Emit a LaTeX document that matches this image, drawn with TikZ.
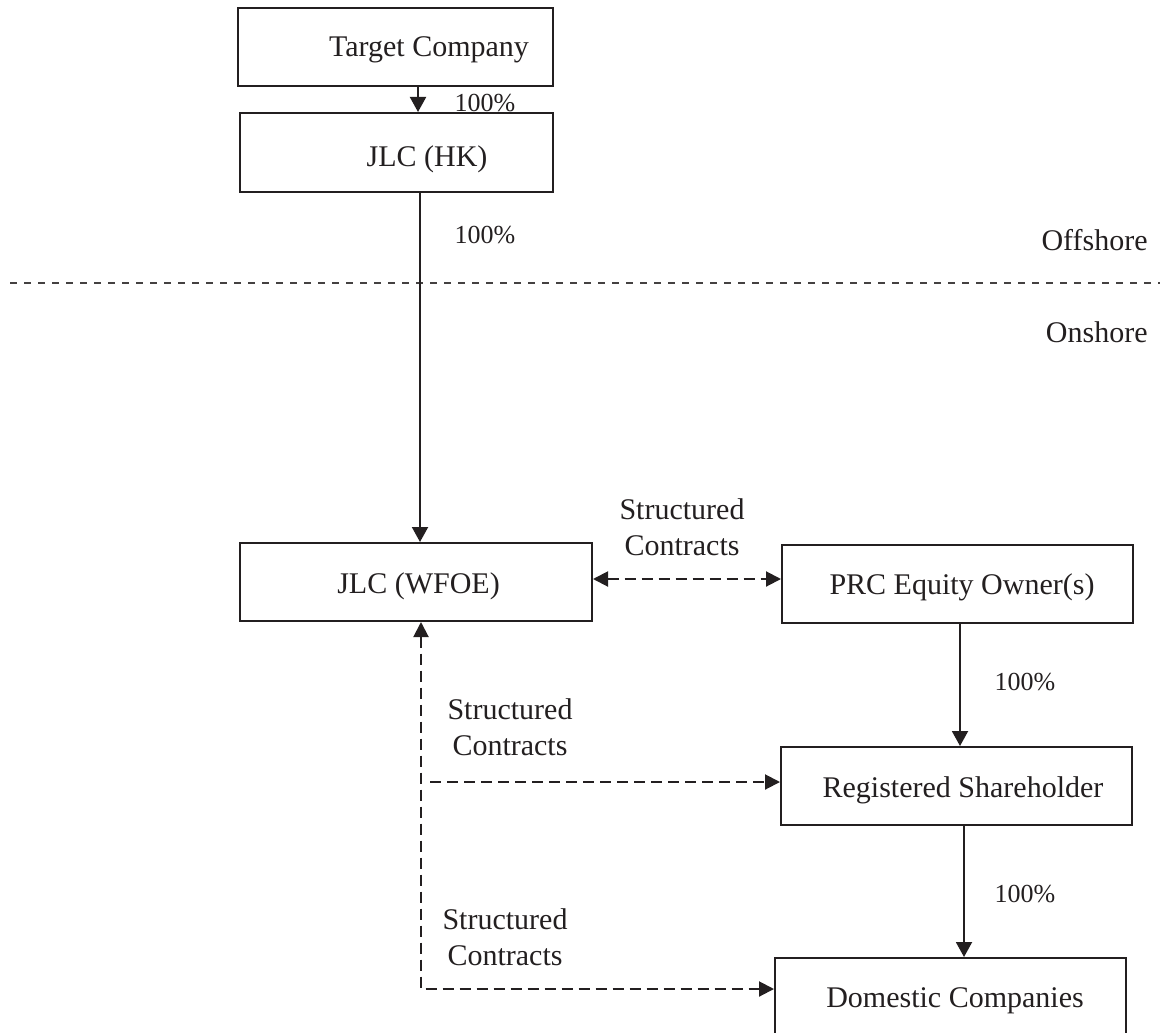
\documentclass[tikz,border=0pt]{standalone}
\usepackage{fontspec}
\setmainfont{Liberation Serif}
\usetikzlibrary{arrows.meta,fit}
\definecolor{ink}{HTML}{231F20}
\begin{document}
\begin{tikzpicture}[x=0.5pt,y=-0.5pt,
  box/.style={draw=ink, line width=1pt, inner sep=0pt},
  txt/.style={text=ink, font=\fontsize{15}{18}\selectfont, inner sep=0pt, anchor=base},
  pct/.style={text=ink, font=\fontsize{13}{15.6}\selectfont, inner sep=0pt, anchor=base},
  lbl/.style={text=ink, font=\fontsize{15}{18}\selectfont, inner sep=0pt, align=center},
  own/.style={draw=ink, line width=1pt, -{Triangle[length=7.5pt,width=8pt]}},
  contract/.style={draw=ink, line width=1pt, dash pattern=on 5.5pt off 3pt},
  tipboth/.style={{Triangle[length=7.5pt,width=7.5pt]}-{Triangle[length=7.5pt,width=7.5pt]}},
  tipend/.style={-{Triangle[length=7.5pt,width=7.5pt]}},
  sep/.style={draw=ink!85, line width=0.75pt, dash pattern=on 3.5pt off 3.5pt}
]
\path[use as bounding box] (0,0) rectangle (1160,1032);
\clip (0,0) rectangle (1160,1032);

% boxes
\node[box, fit={(238,8)(553,86)}] (tc) {};
\node[box, fit={(240,113)(553,192)}] (hk) {};
\node[box, fit={(240,543)(592,621)}] (wfoe) {};
\node[box, fit={(782,545)(1133,623)}] (prc) {};
\node[box, fit={(781,747)(1132,825)}] (reg) {};
\node[box, fit={(775,958)(1126,1070)}] (dom) {};

% box texts
\node[txt] (tct) at (429,57) {Target Company};
\node[txt] (hkt) at (427,167) {JLC (HK)};
\node[txt] (wfoet) at (418.5,593) {JLC (WFOE)};
\node[txt] (prct) at (962,594) {PRC Equity Owner(s)};
\node[txt] (regt) at (963,797) {Registered Shareholder};
\node[txt] (domt) at (955,1007) {Domestic Companies};

% offshore / onshore
\coordinate (sepL) at (10,283);
\coordinate (sepR) at (1160,283);
\draw[sep] (sepL) -- (sepR);
\node[txt, anchor=base east] (off) at (1148,250) {Offshore};
\node[txt, anchor=base east] (on) at (1148,342) {Onshore};

% ownership arrows
\coordinate (xa) at (418,0);
\coordinate (xb) at (420,0);
\coordinate (xp) at (960,0);
\coordinate (xr) at (964,0);
\draw[own] (tc.south -| xa) -- (hk.north -| xa);
\draw[own] (hk.south -| xb) -- (wfoe.north -| xb);
\draw[own] (prc.south -| xp) -- (reg.north -| xp);
\draw[own] (reg.south -| xr) -- (dom.north -| xr);

\node[pct] (p1) at (485,112) {100\%};
\node[pct] (p2) at (485,243) {100\%};
\node[pct] (p3) at (1025,690) {100\%};
\node[pct] (p4) at (1025,902) {100\%};

% structured contracts
\coordinate (ya) at (0,579);
\coordinate (xc) at (421,0);
\coordinate (yd) at (0,989);
\coordinate (br) at (430,782);
\draw[contract, tipboth] (wfoe.east |- ya) -- (prc.west |- ya);
\draw[contract, tipboth] (wfoe.south -| xc) |- (dom.west |- yd);
\draw[contract, tipend] (br) -- (reg.west |- br);

\node[lbl] (sc1) at (682,527) {Structured\\Contracts};
\node[lbl] (sc2) at (510,727) {Structured\\Contracts};
\node[lbl] (sc3) at (505,937) {Structured\\Contracts};
\end{tikzpicture}
\end{document}
